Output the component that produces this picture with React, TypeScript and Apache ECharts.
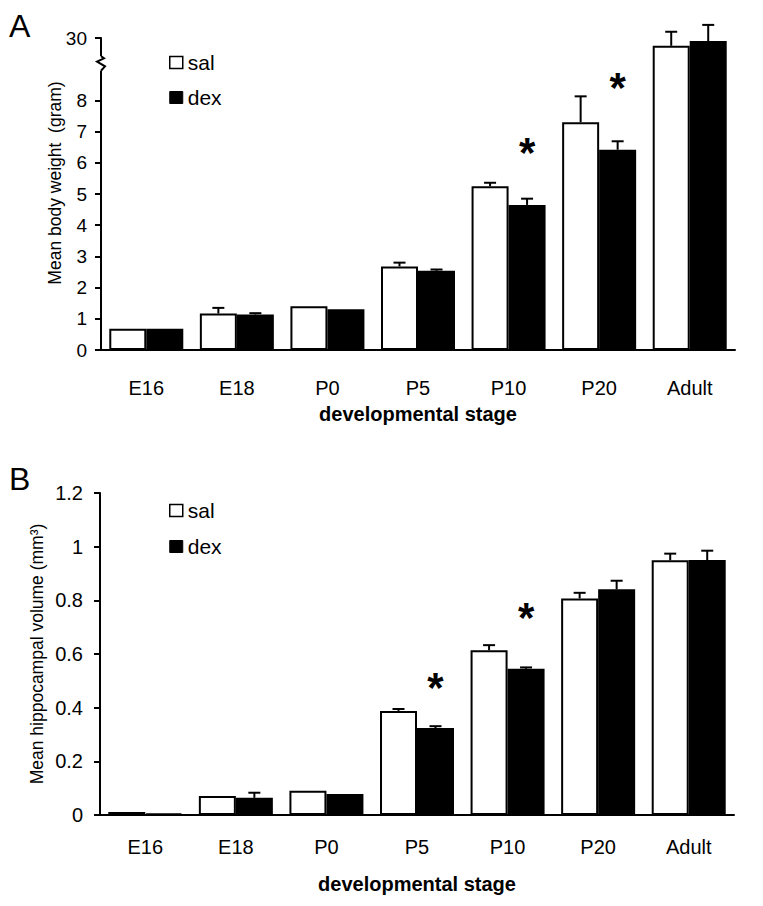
import React, { useEffect, useRef } from "react";
import * as echarts from "echarts";

// ---------- data ----------
const stages = ["E16", "E18", "P0", "P5", "P10", "P20", "Adult"];

// Panel A: mean body weight (gram)
const weightSal = [0.68, 1.17, 1.4, 2.68, 5.25, 7.3, 29.75];
const weightSalErr = [0, 0.18, 0, 0.12, 0.11, 0.83, 0.45];
const weightDex = [0.68, 1.14, 1.31, 2.54, 4.65, 6.42, 29.9];
const weightDexErr = [0, 0.04, 0, 0.04, 0.2, 0.27, 0.52];
const weightStars = [null, null, null, null, 6.47, 8.56, null];
const weightTicks = [0, 1, 2, 3, 4, 5, 6, 7, 8, 30];

// Panel B: mean hippocampal volume (mm3)
const volSal = [0.011, 0.071, 0.09, 0.388, 0.614, 0.807, 0.949];
const volSalErr = [0, 0, 0, 0.007, 0.019, 0.021, 0.025];
const volDex = [0.006, 0.064, 0.078, 0.324, 0.545, 0.841, 0.95];
const volDexErr = [0, 0.019, 0, 0.007, 0.005, 0.032, 0.035];
const volStars = [null, null, null, 0.49, 0.752, null, null];

// ---------- helpers ----------
const FONT = "'Liberation Sans', Arial, Helvetica, sans-serif";
const BAR_W = 37;
// broken axis for panel A: values above the break are shifted down by 20 units
const BREAK_AT = 9;
const BREAK_SHIFT = 20;
const toA = (v: number) => (v <= BREAK_AT ? v : v - BREAK_SHIFT);
const idY = (v: number) => v;

function errSeries(
  id: string,
  axis: number,
  values: number[],
  errs: number[],
  side: number,
  tf: (v: number) => number
) {
  return {
    type: "custom",
    id,
    xAxisIndex: axis,
    yAxisIndex: axis,
    z: 5,
    clip: false,
    encode: { x: 0, y: [1, 2] },
    data: values.map((v, i) => [i, tf(v), tf(v + errs[i])]),
    renderItem: (params: any, api: any) => {
      const i = api.value(0);
      const lo = api.coord([i, api.value(1)]);
      const hi = api.coord([i, api.value(2)]);
      if (Math.abs(lo[1] - hi[1]) < 0.5) return { type: "group", children: [] };
      const x = lo[0] + (side * BAR_W) / 2;
      return {
        type: "group",
        children: [
          {
            type: "line",
            shape: { x1: x, y1: lo[1], x2: x, y2: hi[1] },
            style: { stroke: "#000", lineWidth: 2 },
          },
          {
            type: "line",
            shape: { x1: x - 6, y1: hi[1], x2: x + 6, y2: hi[1] },
            style: { stroke: "#000", lineWidth: 2 },
          },
        ],
      };
    },
  };
}

function starSeries(id: string, axis: number, stars: (number | null)[], tf: (v: number) => number) {
  const data: number[][] = [];
  stars.forEach((v, i) => {
    if (v != null) data.push([i, tf(v)]);
  });
  const fs = 42;
  return {
    type: "custom",
    id,
    xAxisIndex: axis,
    yAxisIndex: axis,
    z: 6,
    clip: false,
    encode: { x: 0, y: 1 },
    data,
    renderItem: (params: any, api: any) => {
      const p = api.coord([api.value(0), api.value(1)]);
      return {
        type: "text",
        x: p[0] + BAR_W / 2,
        y: p[1] + fs * 0.1,
        style: {
          text: "*",
          fontSize: fs,
          fontWeight: "bold",
          fontFamily: FONT,
          fill: "#000",
          align: "center",
          verticalAlign: "middle",
        },
      };
    },
  };
}

const axisLineStyle = { color: "#000", width: 2 };

export default function App() {
  const ref = useRef<HTMLDivElement>(null);

  useEffect(() => {
    if (!ref.current) return;
    const chart = echarts.init(ref.current, undefined, { renderer: "svg" });

    const xAxisBase = (gridIndex: number, labelMargin: number, nameGap: number) => ({
      type: "category",
      gridIndex,
      data: stages,
      axisLine: { lineStyle: axisLineStyle },
      axisTick: { show: false },
      axisLabel: { margin: labelMargin, fontSize: 20, fontFamily: FONT, color: "#000" },
      name: "developmental stage",
      nameLocation: "middle",
      nameGap,
      nameMoveOverlap: false,
      nameTextStyle: { fontSize: 20, fontWeight: "bold", fontFamily: FONT, color: "#000" },
    });

    const legendBase = (top: number, gap: number) => ({
      top,
      left: 164,
      orient: "vertical",
      icon: "rect",
      itemWidth: 13,
      itemHeight: 12,
      itemGap: gap,
      textStyle: { fontSize: 21, fontFamily: FONT, color: "#000" },
      data: [
        { name: "sal", itemStyle: { color: "#fff", borderColor: "#000", borderWidth: 1.5 } },
        { name: "dex", itemStyle: { color: "#000", borderColor: "#000", borderWidth: 1 } },
      ],
      selectedMode: false,
    });

    const option: any = {
      animation: false,
      backgroundColor: "#fff",
      grid: [
        { left: 101, top: 38, width: 634, height: 312 },
        { left: 100, top: 493, width: 634, height: 322 },
      ],
      legend: [legendBase(47, 14), legendBase(495, 15)],
      xAxis: [xAxisBase(0, 28, 54), xAxisBase(1, 22, 59)],
      yAxis: [
        {
          type: "value",
          gridIndex: 0,
          min: 0,
          max: toA(30),
          splitLine: { show: false },
          axisLine: { show: true, lineStyle: axisLineStyle },
          axisTick: {
            show: true,
            length: 6,
            lineStyle: axisLineStyle,
            customValues: weightTicks.map(toA),
          },
          axisLabel: {
            customValues: weightTicks.map(toA),
            formatter: (v: number) => String(v > BREAK_AT ? v + BREAK_SHIFT : v),
            margin: 14,
            fontSize: 19,
            fontFamily: FONT,
            color: "#000",
          },
          name: "Mean body weight  (gram)",
          nameLocation: "middle",
          nameGap: 37,
          nameMoveOverlap: false,
          nameTextStyle: { fontSize: 17.5, fontFamily: FONT, color: "#000", padding: [0, 0, 0, 22] },
        },
        {
          type: "value",
          gridIndex: 1,
          min: 0,
          max: 1.2,
          interval: 0.2,
          splitLine: { show: false },
          axisLine: { show: true, lineStyle: axisLineStyle },
          axisTick: { show: true, length: 6, lineStyle: axisLineStyle },
          axisLabel: { margin: 17, fontSize: 20, fontFamily: FONT, color: "#000" },
          name: "Mean hippocampal volume (mm³)",
          nameLocation: "middle",
          nameGap: 54,
          nameMoveOverlap: false,
          nameTextStyle: { fontSize: 17.5, fontFamily: FONT, color: "#000" },
        },
      ],
      series: [
        {
          type: "bar",
          name: "sal",
          xAxisIndex: 0,
          yAxisIndex: 0,
          data: weightSal.map(toA),
          barWidth: BAR_W,
          barGap: "0%",
          itemStyle: { color: "#fff", borderColor: "#000", borderWidth: 2 },
        },
        {
          type: "bar",
          name: "dex",
          xAxisIndex: 0,
          yAxisIndex: 0,
          data: weightDex.map(toA),
          barWidth: BAR_W,
          barGap: "0%",
          itemStyle: { color: "#000", borderColor: "#000", borderWidth: 2 },
        },
        errSeries("errA-sal", 0, weightSal, weightSalErr, -1, toA),
        errSeries("errA-dex", 0, weightDex, weightDexErr, 1, toA),
        starSeries("starA", 0, weightStars, toA),
        {
          type: "bar",
          name: "sal",
          xAxisIndex: 1,
          yAxisIndex: 1,
          data: volSal,
          barWidth: BAR_W,
          barGap: "0%",
          itemStyle: { color: "#fff", borderColor: "#000", borderWidth: 2 },
        },
        {
          type: "bar",
          name: "dex",
          xAxisIndex: 1,
          yAxisIndex: 1,
          data: volDex,
          barWidth: BAR_W,
          barGap: "0%",
          itemStyle: { color: "#000", borderColor: "#000", borderWidth: 2 },
        },
        errSeries("errB-sal", 1, volSal, volSalErr, -1, idY),
        errSeries("errB-dex", 1, volDex, volDexErr, 1, idY),
        starSeries("starB", 1, volStars, idY),
      ],
    };

    chart.setOption(option);

    // axis-break zigzag on panel A's y axis, placed through the axis scale
    const yHi = chart.convertToPixel({ yAxisIndex: 0 }, 9.42) as number;
    const yLo = chart.convertToPixel({ yAxisIndex: 0 }, 8.95) as number;
    const ax = chart.convertToPixel({ xAxisIndex: 0 }, 0) as number;
    const axisX = ax - 634 / 7 / 2;
    const h = yLo - yHi;
    chart.setOption({
      graphic: [
        {
          type: "rect",
          shape: { x: axisX - 6, y: yHi, width: 12, height: h },
          style: { fill: "#fff" },
          z: 10,
        },
        {
          type: "polyline",
          shape: {
            points: [
              [axisX, yLo],
              [axisX + 4, yLo - h * 0.3],
              [axisX - 4, yLo - h * 0.62],
              [axisX + 3, yHi + h * 0.15],
              [axisX, yHi],
            ],
          },
          style: { stroke: "#000", lineWidth: 2, fill: "none" },
          z: 11,
        },
        {
          type: "text",
          left: 9,
          top: 10,
          style: { text: "A", fontSize: 32, fontFamily: FONT, fill: "#000" },
        },
        {
          type: "text",
          left: 9,
          top: 463,
          style: { text: "B", fontSize: 32, fontFamily: FONT, fill: "#000" },
        },
      ],
    });

    return () => chart.dispose();
  }, []);

  return (
    <div
      ref={ref}
      style={{ position: "fixed", left: 0, top: 0, width: 763, height: 906, background: "#fff" }}
    />
  );
}
